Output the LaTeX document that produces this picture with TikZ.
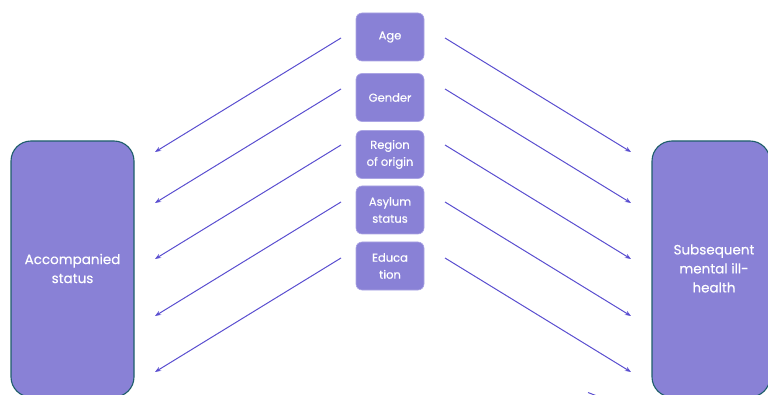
\documentclass[tikz,border=0pt]{standalone}
\usepackage{fontspec}
\setmainfont{Poppins}[FakeBold=0.35]
\usetikzlibrary{arrows.meta}
\definecolor{boxfill}{HTML}{8981D6}
\definecolor{boxedge}{HTML}{1E5E6A}
\definecolor{smalledge}{HTML}{ABA5E4}
\definecolor{arrowcol}{HTML}{5A4ED0}
\tikzset{
  sidebox/.style={draw=boxedge, line width=1.1pt, fill=boxfill, rounded corners=20pt,
    inner sep=0pt},
  sidetext/.style={text=white, align=center, font=\fontsize{13.5}{19}\selectfont},
  factor/.style={draw=smalledge, line width=0.6pt, fill=boxfill, rounded corners=6pt,
    minimum width=68pt, minimum height=48pt, inner sep=0pt, align=center,
    text=white, font=\fontsize{11.5}{17}\selectfont},
  link/.style={draw=arrowcol, line width=1pt, -{Stealth[length=6pt,width=4.5pt]}}
}
\begin{document}
\begin{tikzpicture}[x=1pt, y=-1pt]
  \useasboundingbox (0,0) rectangle (768,395);
  \begin{scope}
    \clip (0,0) rectangle (768,395);
    % exposure and outcome boxes (they run past the page edge)
    \node[sidebox, minimum width=123pt, minimum height=256pt] (acc) at (72.5,269) {};
    \node[sidebox, minimum width=118pt, minimum height=256pt] (out) at (711,269) {};
    \draw[arrowcol, line width=1pt] (588,392.5) -- (597,396);
  \end{scope}
  \node[sidetext] (acclbl) at (72.5,268.5) {Accompanied\\status};
  \node[sidetext] (outlbl) at (714,268.5) {Subsequent\\mental ill-\\health};

  % covariates
  \node[factor] (age) at (390,37) {Age};
  \node[factor] (gen) at (390,97.5) {Gender};
  \node[factor] (reg) at (390,154.5) {Region\\of origin};
  \node[factor] (asy) at (390,210) {Asylum\\status};
  \node[factor] (edu) at (390,266) {Educa\\tion};

  % arrow ends
  \foreach \n/\y in {age/38, gen/89, reg/145, asy/202, edu/258}{
    \coordinate (\n-l0) at (341,\y);
    \coordinate (\n-l1) at (155,\y+114);
    \coordinate (\n-r0) at (445,\y);
    \coordinate (\n-r1) at (631,\y+114);
    \draw[link] (\n-l0) -- (\n-l1);
    \draw[link] (\n-r0) -- (\n-r1);
  }
\end{tikzpicture}
\end{document}
